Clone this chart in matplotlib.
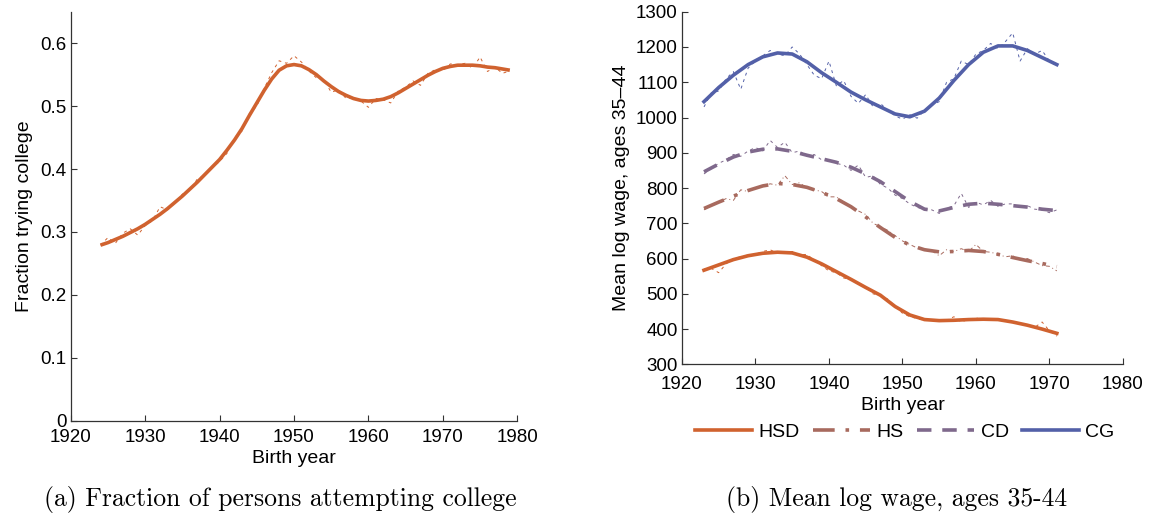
import matplotlib.pyplot as plt
import numpy as np

plt.rcParams['font.family'] = ['Liberation Sans', 'DejaVu Sans']

# ---- panel (a): fraction trying college ----
years_a = np.arange(1924, 1980)
frac_smooth = [0.279, 0.283, 0.288, 0.293, 0.299, 0.305, 0.312, 0.320, 0.328, 0.337,
               0.347, 0.357, 0.368, 0.379, 0.391, 0.403, 0.415, 0.430, 0.446, 0.464,
               0.485, 0.505, 0.525, 0.543, 0.557, 0.564, 0.566, 0.564, 0.558, 0.550,
               0.540, 0.531, 0.523, 0.517, 0.512, 0.509, 0.508, 0.509, 0.511, 0.515,
               0.521, 0.528, 0.535, 0.542, 0.549, 0.555, 0.560, 0.563, 0.565, 0.565,
               0.565, 0.564, 0.562, 0.561, 0.559, 0.557]
frac_raw = [0.279, 0.291, 0.282, 0.298, 0.305, 0.295, 0.310, 0.318, 0.340, 0.335,
            0.346, 0.360, 0.366, 0.384, 0.390, 0.402, 0.412, 0.425, 0.450, 0.460,
            0.488, 0.500, 0.528, 0.553, 0.572, 0.568, 0.580, 0.570, 0.556, 0.545,
            0.542, 0.522, 0.526, 0.512, 0.514, 0.508, 0.498, 0.512, 0.510, 0.505,
            0.524, 0.530, 0.540, 0.533, 0.552, 0.558, 0.556, 0.567, 0.566, 0.568,
            0.560, 0.578, 0.555, 0.562, 0.552, 0.556]

# ---- panel (b): mean log wage ----
years_s = np.arange(1923, 1972, 2)
hsd_s = [567, 582, 597, 608, 615, 618, 616, 604, 585, 563, 541, 518, 496,
         464, 440, 427, 424, 425, 427, 428, 427, 420, 411, 400, 388]
hs_s = [742, 760, 777, 793, 806, 813, 810, 802, 788, 770, 747, 718, 688,
        660, 638, 625, 619, 620, 623, 620, 612, 603, 594, 586, 577]
cd_s = [846, 868, 888, 902, 910, 911, 904, 893, 883, 873, 859, 840, 818,
        790, 762, 740, 735, 745, 754, 757, 754, 750, 746, 740, 736]
cg_s = [1045, 1085, 1120, 1150, 1172, 1183, 1180, 1158, 1127, 1100, 1072, 1050, 1030,
        1010, 1002, 1018, 1055, 1105, 1150, 1185, 1203, 1203, 1190, 1170, 1150]

years_r = np.arange(1923, 1972)
hsd_r = [570, 572, 560, 585, 600, 605, 610, 612, 620, 625, 615, 618, 620, 610, 612, 595, 580,
         565, 560, 545, 540, 530, 520, 500, 495, 485, 465, 445, 435, 430, 425, 428, 422, 425,
         435, 420, 428, 432, 425, 430, 428, 422, 420, 418, 412, 405, 420, 395, 380]
hs_r = [738, 752, 760, 770, 765, 795, 790, 800, 805, 812, 808, 835, 810, 815, 800, 795, 790,
        775, 775, 760, 745, 735, 725, 700, 690, 680, 665, 650, 640, 630, 625, 622, 608, 625,
        620, 628, 620, 640, 620, 618, 612, 605, 608, 595, 600, 590, 580, 578, 565]
cd_r = [840, 855, 870, 880, 895, 890, 905, 915, 905, 935, 915, 930, 900, 905, 890, 895, 880,
        880, 870, 865, 850, 865, 830, 835, 810, 800, 780, 770, 755, 745, 740, 738, 728, 742,
        750, 785, 745, 760, 752, 765, 748, 755, 755, 745, 750, 740, 738, 730, 738]
cg_r = [1030, 1070, 1075, 1110, 1130, 1080, 1140, 1160, 1175, 1190, 1180, 1175, 1200, 1180,
        1150, 1120, 1110, 1160, 1090, 1105, 1060, 1040, 1065, 1030, 1040, 1020, 1005, 995,
        1008, 998, 1020, 1035, 1045, 1100, 1110, 1160, 1150, 1180, 1190, 1210, 1195, 1215,
        1240, 1160, 1195, 1180, 1190, 1160, 1145]

names = ['HSD', 'HS', 'CD', 'CG']
colors = ['#D0622F', '#A86A5E', '#7F698C', '#5360A8']
styles = ['-', (0, (6, 3, 1, 3)), (0, (4, 3)), '-']
raw_styles = [(0, (3, 4)), (0, (4, 3, 1, 3)), (0, (3, 4)), (0, (3, 4))]

fig = plt.figure(figsize=(11.5, 5.25), dpi=100)
ax1 = fig.add_axes([0.0615, 0.1987, 0.3883, 0.779])
ax2 = fig.add_axes([0.593, 0.306, 0.3835, 0.6717])


def style_axes(ax, xpad):
    ax.spines['right'].set_color('none')
    ax.spines['top'].set_color('none')
    for s in ['left', 'bottom']:
        ax.spines[s].set_color('#333333')
        ax.spines[s].set_linewidth(0.9)
    ax.tick_params(direction='in', length=4, width=0.8, labelsize=13.5, pad=3,
                   colors='#333333', labelcolor='black')
    ax.tick_params(axis='x', pad=xpad)
    ax.set_xlim(1920, 1980)
    ax.set_xticks(range(1920, 1981, 10))


style_axes(ax1, 6)
ax1.plot(years_a, frac_raw, color=colors[0], lw=0.7, ls=(0, (3, 4)))
ax1.plot(years_a, frac_smooth, color=colors[0], lw=2.6, solid_capstyle='butt')
ax1.set_ylim(0, 0.65)
ax1.set_yticks([0, 0.1, 0.2, 0.3, 0.4, 0.5, 0.6])
ax1.set_yticklabels(['0', '0.1', '0.2', '0.3', '0.4', '0.5', '0.6'])
ax1.set_xlabel('Birth year', fontsize=14, labelpad=3)
ax1.set_ylabel('Fraction trying college', fontsize=14, labelpad=5)

style_axes(ax2, 8.5)
smooth = [hsd_s, hs_s, cd_s, cg_s]
raw = [hsd_r, hs_r, cd_r, cg_r]
handles = []
for i in range(4):
    ax2.plot(years_r, raw[i], color=colors[i], lw=0.7, ls=raw_styles[i])
    h, = ax2.plot(years_s, smooth[i], color=colors[i], lw=2.6, ls=styles[i], label=names[i])
    handles.append(h)
ax2.set_ylim(300, 1300)
ax2.set_yticks(range(300, 1301, 100))
ax2.set_xlabel('Birth year', fontsize=14, labelpad=3)
ax2.set_ylabel('Mean log wage, ages 35\u201344', fontsize=14, labelpad=4)

fig.legend(handles=handles, loc='center', bbox_to_anchor=(0.787, 0.177), ncol=4,
           frameon=False, fontsize=14, handlelength=2.9, handletextpad=0.35,
           columnspacing=0.7)

fig.text(0.244, 0.048, '(a) Fraction of persons attempting college', ha='center',
         va='center', fontsize=18.5, family=['cmr10', 'DejaVu Serif'])
fig.text(0.78, 0.048, '(b) Mean log wage, ages 35-44', ha='center',
         va='center', fontsize=18.5, family=['cmr10', 'DejaVu Serif'])

fig.savefig('out.png', dpi=100)
